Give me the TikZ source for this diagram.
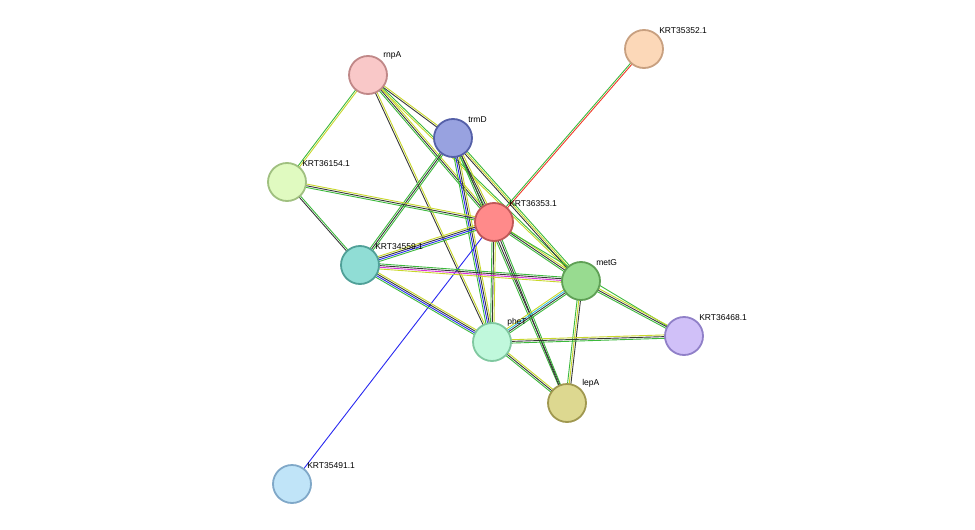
\documentclass[tikz,border=0pt]{standalone}
\usepackage{fontspec}
\setmainfont{Liberation Sans}
\usetikzlibrary{calc}
\definecolor{sgreen}{HTML}{3CB93C}
\definecolor{syellow}{HTML}{C8D72A}
\definecolor{sblack}{HTML}{383838}
\definecolor{sblue}{HTML}{2828F0}
\definecolor{sred}{HTML}{F03A2A}
\definecolor{smag}{HTML}{D830D8}
\definecolor{scyan}{HTML}{30B8E0}
% protein fills and rims
\definecolor{frnpA}{HTML}{F9C8C8}\definecolor{drnpA}{HTML}{C08888}
\definecolor{ftrmD}{HTML}{98A2E0}\definecolor{dtrmD}{HTML}{5560A8}
\definecolor{fk52}{HTML}{FCD8B8}\definecolor{dk52}{HTML}{C8A080}
\definecolor{fk54}{HTML}{E0FAC0}\definecolor{dk54}{HTML}{A0C080}
\definecolor{fk53}{HTML}{FF8A8A}\definecolor{dk53}{HTML}{C05858}
\definecolor{fk59}{HTML}{90DDD5}\definecolor{dk59}{HTML}{50A098}
\definecolor{fmetG}{HTML}{98DB90}\definecolor{dmetG}{HTML}{5FA055}
\definecolor{fk68}{HTML}{D0C0F8}\definecolor{dk68}{HTML}{9080C8}
\definecolor{fpheT}{HTML}{C0F8DC}\definecolor{dpheT}{HTML}{80C8A0}
\definecolor{flepA}{HTML}{DDD890}\definecolor{dlepA}{HTML}{A09850}
\definecolor{fk91}{HTML}{C0E4F8}\definecolor{dk91}{HTML}{80A8C8}
\tikzset{
  prot/.style={circle, minimum size=38pt, inner sep=0pt, line width=1.8pt, fill=f#1, draw=d#1},
  lbl/.style={font=\fontsize{8.5}{10}\selectfont, inner sep=1pt, anchor=south west}
}
\newcommand\lnk[4]{%
  \foreach \c [count=\i] in {#4} {
    \pgfmathsetmacro\off{(\i-(#3+1)/2)*1.7}
    \draw[\c, line width=0.9pt] ($(#1)!\off pt!90:(#2)$) -- ($(#2)!\off pt!-90:(#1)$);
  }}
\begin{document}
\begin{tikzpicture}[x=1pt, y=-1pt]
\useasboundingbox (0,0) rectangle (975,530);
\coordinate (rnpA) at (368,75);
\coordinate (trmD) at (453,138);
\coordinate (k52) at (644,49);
\coordinate (k54) at (287,182);
\coordinate (k53) at (494,222);
\coordinate (k59) at (360,265);
\coordinate (metG) at (581,281);
\coordinate (k68) at (684,336);
\coordinate (pheT) at (492,342);
\coordinate (lepA) at (567,403);
\coordinate (k91) at (292,484);
% links
\lnk{rnpA}{k54}{2}{sgreen,syellow}
\lnk{rnpA}{trmD}{2}{sblack,syellow}
\lnk{rnpA}{k53}{3}{sgreen,sblack,syellow}
\lnk{rnpA}{metG}{2}{syellow,sgreen}
\lnk{rnpA}{pheT}{2}{sblack,syellow}
\lnk{trmD}{k53}{3}{sgreen,sblack,syellow}
\lnk{trmD}{metG}{3}{sblack,syellow,sgreen}
\lnk{trmD}{k59}{3}{sgreen,sblack,sgreen}
\lnk{trmD}{pheT}{4}{sgreen,sblue,sblack,syellow}
\lnk{trmD}{lepA}{2}{sgreen,sblack}
\lnk{k54}{k53}{3}{sgreen,sblack,syellow}
\lnk{k54}{k59}{2}{sblack,sgreen}
\lnk{k52}{k53}{2}{sgreen,sred}
\lnk{k53}{k59}{4}{syellow,sblack,sblue,sgreen}
\lnk{k53}{metG}{3}{sgreen,sblack,syellow}
\lnk{k53}{pheT}{3}{sgreen,sblack,syellow}
\lnk{k53}{lepA}{2}{sblack,sgreen}
\lnk{k53}{k68}{1}{sgreen}
\lnk{k53}{k91}{1}{sblue}
\lnk{k59}{metG}{4}{syellow,smag,sblack,sgreen}
\lnk{k59}{pheT}{4}{sgreen,sblue,sblack,syellow}
\lnk{metG}{pheT}{4}{syellow,scyan,sblack,sgreen}
\lnk{metG}{lepA}{3}{sgreen,syellow,sblack}
\lnk{metG}{k68}{3}{sgreen,sblack,syellow}
\lnk{pheT}{k68}{3}{sgreen,sblack,syellow}
\lnk{pheT}{lepA}{3}{sgreen,sblack,syellow}
% proteins
\node[prot=rnpA, label={[lbl]45:rnpA}] (nrnpA) at (rnpA) {};
\node[prot=trmD, label={[lbl]45:trmD}] (ntrmD) at (trmD) {};
\node[prot=k52, label={[lbl]45:KRT35352.1}] (nk52) at (k52) {};
\node[prot=k54, label={[lbl]45:KRT36154.1}] (nk54) at (k54) {};
\node[prot=k53, label={[lbl]45:KRT36353.1}] (nk53) at (k53) {};
\node[prot=k59, label={[lbl]45:KRT34559.1}] (nk59) at (k59) {};
\node[prot=metG, label={[lbl]45:metG}] (nmetG) at (metG) {};
\node[prot=k68, label={[lbl]45:KRT36468.1}] (nk68) at (k68) {};
\node[prot=pheT, label={[lbl]45:pheT}] (npheT) at (pheT) {};
\node[prot=lepA, label={[lbl]45:lepA}] (nlepA) at (lepA) {};
\node[prot=k91, label={[lbl]45:KRT35491.1}] (nk91) at (k91) {};
\end{tikzpicture}
\end{document}
